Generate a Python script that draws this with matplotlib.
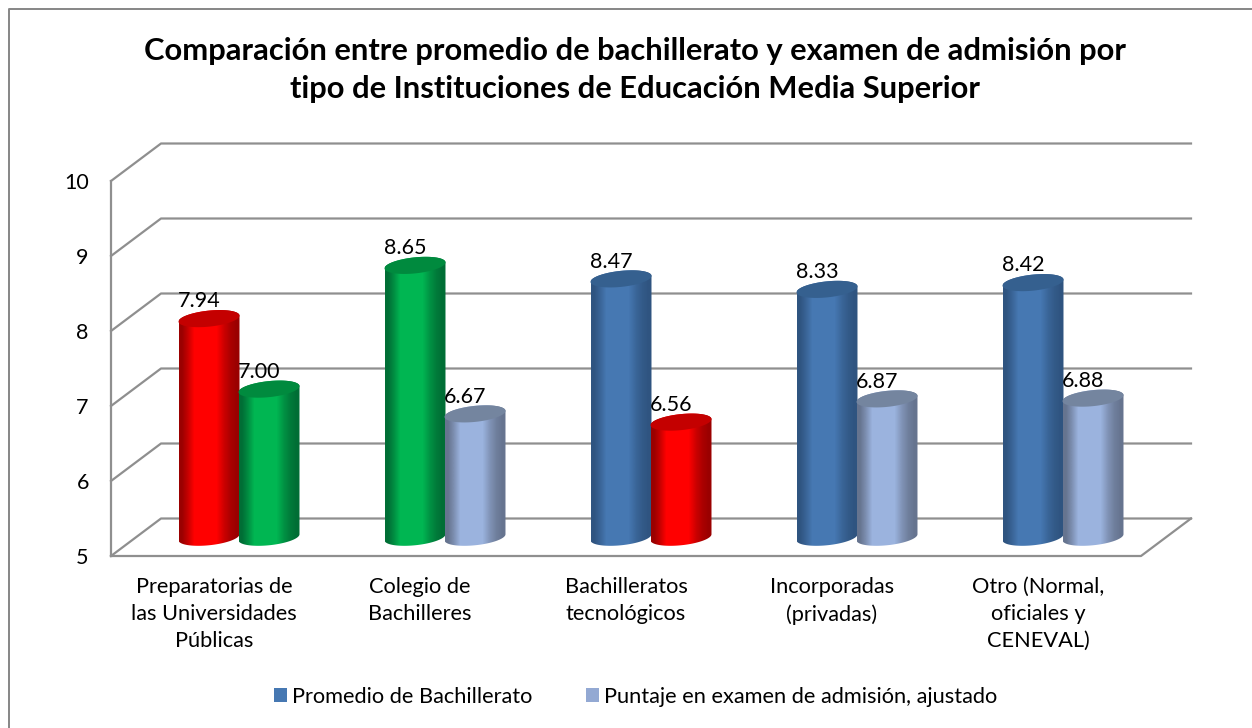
import matplotlib
matplotlib.use("Agg")
import matplotlib.pyplot as plt
import numpy as np
from matplotlib.colors import LinearSegmentedColormap
from matplotlib.lines import Line2D
from matplotlib.patches import Patch, Polygon

plt.rcParams['font.family'] = ['Lato', 'DejaVu Sans']

titulo = "Comparación entre promedio de bachillerato y examen de admisión por\ntipo de Instituciones de Educación Media Superior"
categorias = ["Preparatorias de\nlas Universidades\nPúblicas", "Colegio de\nBachilleres",
              "Bachilleratos\ntecnológicos", "Incorporadas\n(privadas)",
              "Otro (Normal,\noficiales y\nCENEVAL)"]
promedio = [7.94, 8.65, 8.47, 8.33, 8.42]
puntaje = [7.00, 6.67, 6.56, 6.87, 6.88]
# colour name of each bar (the chart highlights some of them by hand)
color_promedio = ["rojo", "verde", "azul", "azul", "azul"]
color_puntaje = ["verde", "claro", "rojo", "claro", "claro"]
series = ["Promedio de Bachillerato", "Puntaje en examen de admisión, ajustado"]

# edge, middle, top
colores = {"rojo": ("#9a0000", "#ff0000", "#c40000"),
           "verde": ("#006e35", "#00b652", "#008a3e"),
           "azul": ("#2f5480", "#4678b2", "#35608f"),
           "claro": ("#66748f", "#9bb3de", "#74859f")}
gris = "#8f8f8f"

W, H = 1252, 728
fig = plt.figure(figsize=(W / 100, H / 100), dpi=100, facecolor="white")
ax = fig.add_axes([111 / W, 1 - 556 / H, 1030 / W, 375 / H])
ax.set_xlim(0, 5)
ax.set_ylim(5, 10)
ax.patch.set_alpha(0)

# depth of the fake 3d box, in data units
DX = 50 / 206
DY = 37.5 / 75

for v in range(5, 11):
    ax.plot([0, DX, 5 + DX], [v, v + DY, v + DY], color=gris, lw=1.6, clip_on=False, zorder=1)
ax.plot([0, 0], [5, 10], color=gris, lw=1.6, clip_on=False, zorder=1)
ax.plot([0, 5, 5 + DX], [5, 5, 5 + DY], color=gris, lw=1.6, clip_on=False, zorder=1)

for s in ax.spines.values():
    s.set_visible(False)
ax.set_yticks(range(5, 11))
ax.set_xticks(np.arange(5) + 0.5)
ax.set_xticklabels(categorias, linespacing=1.45)
ax.tick_params(axis="y", length=0, pad=16, labelsize=15.5)
ax.tick_params(axis="x", length=0, pad=15, labelsize=15.7)

ancho = 0.148   # half width of a cylinder
alto = 0.107    # half height of its ellipse
ses = 0.04      # tilt of the ellipse
t = np.linspace(0, 2 * np.pi, 121)
ramp = np.array([[0, .1, .22, .38, .5, .62, .74, .86, .95, 1]])


def cilindro(cx, valor, nombre, z):
    borde, medio, tapa = colores[nombre]
    cy0 = 5 + DY / 2
    cy1 = valor + DY / 2 - 0.025
    # bottom half of the base, then back up over the top
    a = np.linspace(np.pi, 2 * np.pi, 60)
    bx = cx + ancho * np.cos(a)
    by = cy0 + alto * np.sin(a) + ses * np.cos(a)
    a2 = np.linspace(0, np.pi, 60)
    tx = cx + ancho * np.cos(a2)
    ty = cy1 + alto * np.sin(a2) + ses * np.cos(a2)
    cuerpo = Polygon(np.c_[np.r_[bx, tx], np.r_[by, ty]], closed=True, fc="none", ec="none",
                     transform=ax.transData, clip_on=False)
    ax.add_patch(cuerpo)
    cm = LinearSegmentedColormap.from_list(nombre, [(0, borde), (.22, medio), (.7, medio), (1, borde)])
    im = ax.imshow(ramp, cmap=cm, vmin=0, vmax=1, aspect="auto", interpolation="bilinear",
                   extent=[cx - ancho, cx + ancho, cy0 - 0.3, cy1 + 0.3], zorder=z)
    im.set_clip_path(cuerpo)
    ax.fill(cx + ancho * np.cos(t), cy1 + alto * np.sin(t) + ses * np.cos(t),
            color=tapa, lw=0, clip_on=False, zorder=z + 0.1)


sep = 60 / 206 / 2
for i in range(5):
    centro = i + 0.5 + DX / 2
    for j, (vals, cols) in enumerate([(promedio, color_promedio), (puntaje, color_puntaje)]):
        cx = centro + (j * 2 - 1) * sep
        cilindro(cx, vals[i], cols[i], 2 + i + j * 0.3)
        ax.annotate(f"{vals[i]:.2f}", (cx, vals[i] + DY / 2), xytext=(-7, 11),
                    textcoords="offset points", ha="center", va="center",
                    fontsize=15.5, color="black", zorder=20, annotation_clip=False)
ax.set_xlim(0, 5)
ax.set_ylim(5, 10)

fig.text(635.5 / W, 1 - 70 / H, titulo, ha="center", va="center", fontsize=22.2,
         fontweight="bold", linespacing=1.45)

handles = [Patch(fc="#4678b2", ec="none"), Patch(fc="#93a9d3", ec="none")]
fig.legend(handles, series, loc="center left", bbox_to_anchor=(254 / W, 1 - 697 / H), ncol=2,
           frameon=False, fontsize=15.7, handlelength=0.6, handleheight=0.6,
           handletextpad=0.22, columnspacing=2.5)

fig.add_artist(Line2D([9 / W, 9 / W, 1], [0, 1 - 9 / H, 1 - 9 / H], color="#868686", lw=1.4))

fig.savefig("out.png", dpi=100)
